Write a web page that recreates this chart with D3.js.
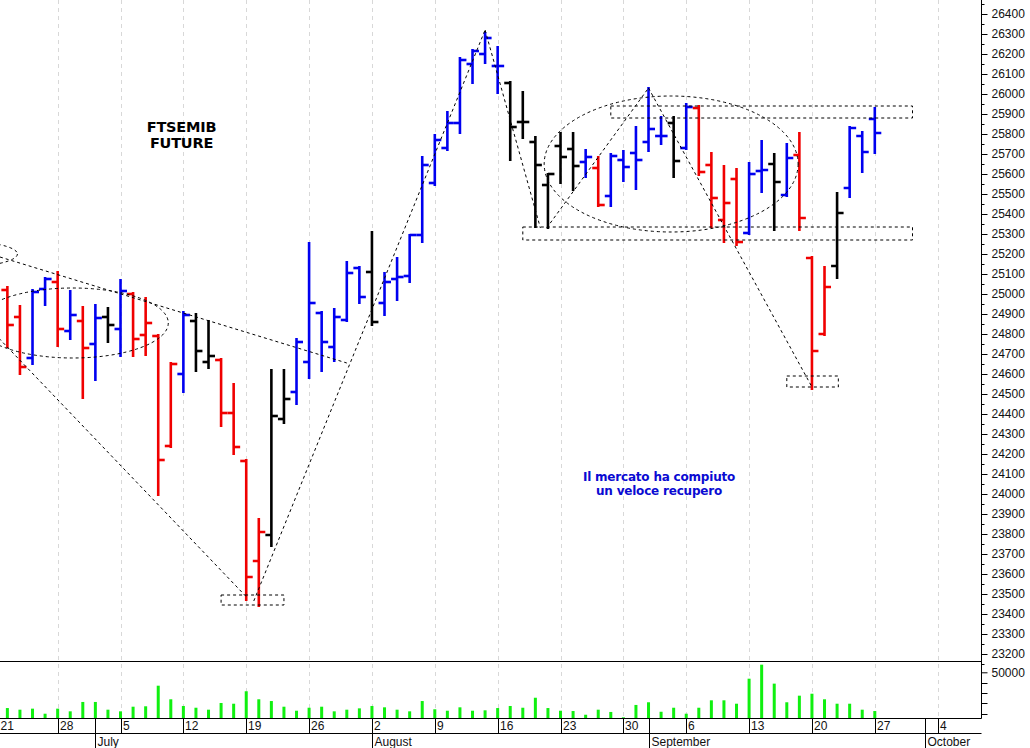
<!DOCTYPE html>
<html><head><meta charset="utf-8">
<script src="https://cdn.jsdelivr.net/npm/d3@7"></script>
<style>
html,body{margin:0;padding:0;background:#fff;}
svg{display:block;}
</style></head>
<body>
<svg id="chart" width="1030" height="748"></svg>
<script>
// ---------- DATA ----------
const dates = [
 "2021-06-22","2021-06-23","2021-06-24","2021-06-25","2021-06-28","2021-06-29","2021-06-30",
 "2021-07-01","2021-07-02","2021-07-05","2021-07-06","2021-07-07","2021-07-08","2021-07-09",
 "2021-07-12","2021-07-13","2021-07-14","2021-07-15","2021-07-16","2021-07-19","2021-07-20",
 "2021-07-21","2021-07-22","2021-07-23","2021-07-26","2021-07-27","2021-07-28","2021-07-29",
 "2021-07-30","2021-08-02","2021-08-03","2021-08-04","2021-08-05","2021-08-06","2021-08-09",
 "2021-08-10","2021-08-11","2021-08-12","2021-08-13","2021-08-16","2021-08-17","2021-08-18",
 "2021-08-19","2021-08-20","2021-08-23","2021-08-24","2021-08-25","2021-08-26","2021-08-27",
 "2021-08-30","2021-08-31","2021-09-01","2021-09-02","2021-09-03","2021-09-06","2021-09-07",
 "2021-09-08","2021-09-09","2021-09-10","2021-09-13","2021-09-14","2021-09-15","2021-09-16",
 "2021-09-17","2021-09-20","2021-09-21","2021-09-22","2021-09-23","2021-09-24","2021-09-27"];
const open = [25020,24885,24680,25025,25060,24815,24865,24750,24885,24825,25000,24795,24790,24240,
 24600,24865,24660,24670,24405,24165,23665,23795,24375,24510,24660,24905,24735,24870,25130,25110,
 24955,25075,25090,25295,25555,25730,25855,26150,26200,26140,26055,25860,25760,25545,25740,25725,
 25660,25630,25490,25670,25705,25760,25790,25855,25730,25930,25645,25370,25575,25305,25615,25650,
 25495,25695,25180,24800,25140,25530,25790,25875];
const high = [25035,24940,25020,25080,25110,25015,24935,24945,24930,25070,25005,24980,24795,24655,
 24910,24900,24865,24675,24550,24170,23875,24620,24620,24775,25255,24910,24925,25160,25135,25310,
 25105,25180,25295,25685,25795,25910,26180,26220,26305,26235,26060,26010,25785,25600,25805,25805,
 25720,25685,25700,25715,25835,26030,25885,25885,25950,25940,25705,25640,25625,25655,25765,25700,
 25750,25805,25185,25135,25505,25835,25810,25930];
const low = [24735,24600,24650,24945,24740,24775,24480,24570,24760,24690,24690,24695,23995,24235,
 24510,24615,24630,24340,24200,23470,23440,23740,24355,24450,24580,24615,24665,24865,24955,24845,
 24895,24970,25060,25260,25545,25720,25805,26055,26155,26005,25670,25780,25335,25330,25555,25520,
 25585,25440,25440,25565,25525,25715,25750,25585,25725,25595,25335,25260,25245,25300,25510,25320,
 25490,25320,24525,24795,25080,25485,25610,25705];
const close = [24845,24635,25010,25075,24825,24895,24730,24880,24845,25015,24775,24855,24170,24650,
 24895,24715,24690,24405,24235,23585,23810,24390,24475,24760,24955,24760,24885,25105,24985,24860,
 25060,25085,25295,25645,25770,25855,26170,26215,26280,26140,25835,25860,25645,25600,25685,25640,
 25685,25445,25690,25635,25670,25825,25790,25665,25935,25610,25480,25455,25260,25600,25620,25560,
 25680,25380,24715,25035,25405,25830,25710,25805];
// bar colour as drawn: b = blue, r = red, k = black
const barColor = ["r","r","b","b","r","b","r","b","k","b","r","r","r","r",
 "b","k","k","r","r","r","r","k","k","b","b","b","b","b","b","k",
 "b","b","b","b","b","b","b","b","b","b","k","k","k","k","k","k",
 "b","r","b","b","b","b","b","k","b","r","r","r","r","b","b","k",
 "b","r","r","r","k","b","b","b"];
const volume = [15300,13700,14700,9800,14700,12100,21200,21200,13700,12100,16600,17000,37000,23800,
 17300,15600,13700,20200,19500,31600,23800,22100,16600,12700,15600,16600,12100,13700,15000,17300,
 16000,13700,12100,22100,14100,12700,16000,12700,13100,15300,17300,15600,25300,15300,12700,12400,
 8800,13700,11500,6300,18300,20900,11700,15600,9800,15600,22800,22800,19500,43800,57400,39000,
 20900,27300,29200,23800,19500,19500,13700,12400];

const weekTickDates  = ["2021-06-21","2021-06-28","2021-07-05","2021-07-12","2021-07-19","2021-07-26",
 "2021-08-02","2021-08-09","2021-08-16","2021-08-23","2021-08-30","2021-09-06","2021-09-13",
 "2021-09-20","2021-09-27","2021-10-04"];
const weekTickLabels = ["21","28","5","12","19","26","2","9","16","23","30","6","13","20","27","4"];
const monthStarts = ["2021-07-01","2021-08-02","2021-09-01","2021-10-01"];
const monthNames  = ["July","August","September","October"];
const priceTicks = d3.range(23200, 26401, 100);
const volumeTickLabel = 50000;
const volumeMinorTicks = [10000,20000,30000,40000];

// hand-drawn annotations in (trading-day index, price)
const annRects = [[18.0,23.0,23495,23445],[49.0,73.0,25940,25880],[42.0,73.0,25335,25270],[63.0,67.1,24590,24535]];
const annEllipses = [[-2.8,25200,4.6,65],[6.2,24855,7.6,175],[53.8,25650,10.1,340]];
const annLines = [[0.41,25185,28.0,24655],[0.0,24800,20.1,23480],[20.6,23465,39.0,26320],
 [39.0,26320,43.4,25330],[43.9,25330,52.0,26030],[52.0,26030,65.0,24535]];
const title = ["FTSEMIB","FUTURE"];
const note = ["Il mercato ha compiuto","un veloce recupero"];

// ---------- SCALES ----------
const W = 1030, axisX = 981.5;
const pTop = 0, pBot = 661.5, vBot = 718.5, dRow = 733.5, H = 748;
const start = Date.UTC(2021,5,21);
const parse = s => { const [yy,m,d] = s.split("-").map(Number); return new Date(Date.UTC(yy,m-1,d)); };
const tIdx = s => { const dt = parse(s); const days = Math.round((dt - start)/864e5);
  return Math.floor(days/7)*5 + (dt.getUTCDay()-1); };
const x = d3.scaleLinear().domain([0,70]).range([-5.2, 874.8]);
const y = d3.scaleLinear().domain([23200,26400]).range([654,14]);
const yv = d3.scaleLinear().domain([0,50000]).range([723.8,672.3]);
const colorMap = {b:"#0000f0", r:"#f00000", k:"#000000"};

const svg = d3.select("#chart");
svg.append("rect").attr("width",W).attr("height",H).attr("fill","#fff");

const defs = svg.append("defs");
defs.append("clipPath").attr("id","cp").append("rect").attr("x",0).attr("y",pTop).attr("width",axisX).attr("height",pBot-pTop);
defs.append("clipPath").attr("id","cv").append("rect").attr("x",0).attr("y",pBot).attr("width",axisX).attr("height",vBot-pBot);

// grid (mondays)
const gx = weekTickDates.map(tIdx);
svg.append("g").selectAll("line").data(gx).join("line")
  .attr("x1",d=>Math.round(x(d))+0.5).attr("x2",d=>Math.round(x(d))+0.5)
  .attr("y1",0).attr("y2",vBot)
  .attr("stroke","#d8d8d8").attr("stroke-dasharray","4,4").attr("stroke-width",1);

// ---------- PRICE BARS ----------
const gp = svg.append("g").attr("clip-path","url(#cp)");
const idx = dates.map(tIdx);
const bars = gp.selectAll("g.bar").data(idx.map((d,i)=>i)).join("g").attr("class","bar")
  .attr("stroke",i=>colorMap[barColor[i]]).attr("stroke-width",2.6).attr("fill","none");
bars.append("line").attr("x1",i=>x(idx[i])).attr("x2",i=>x(idx[i]))
  .attr("y1",i=>y(high[i])-1).attr("y2",i=>y(low[i])+1);
bars.append("line").attr("x1",i=>x(idx[i])-6).attr("x2",i=>x(idx[i]))
  .attr("y1",i=>y(open[i])).attr("y2",i=>y(open[i]));
bars.append("line").attr("x1",i=>x(idx[i])).attr("x2",i=>x(idx[i])+6.5)
  .attr("y1",i=>y(close[i])).attr("y2",i=>y(close[i]));

// ---------- ANNOTATIONS ----------
const ga = gp.append("g").attr("fill","none").attr("stroke","#000").attr("stroke-width",1).attr("stroke-dasharray","3,3");
ga.selectAll("rect").data(annRects).join("rect")
  .attr("x",d=>x(d[0])).attr("width",d=>x(d[1])-x(d[0]))
  .attr("y",d=>y(d[2])).attr("height",d=>y(d[3])-y(d[2]));
ga.selectAll("ellipse").data(annEllipses).join("ellipse")
  .attr("cx",d=>x(d[0])).attr("cy",d=>y(d[1]))
  .attr("rx",d=>x(d[0]+d[2])-x(d[0])).attr("ry",d=>y(d[1]-d[3])-y(d[1]));
ga.selectAll("line").data(annLines).join("line")
  .attr("x1",d=>x(d[0])).attr("y1",d=>y(d[1])).attr("x2",d=>x(d[2])).attr("y2",d=>y(d[3]));

// texts
title.forEach((t,k)=>{
  svg.append("text").attr("x",181.5).attr("y",131.5+k*16).attr("text-anchor","middle")
    .attr("font-family","DejaVu Sans, Verdana, sans-serif").attr("font-weight","bold").attr("font-size",14.5)
    .attr("letter-spacing","-0.2").attr("fill","#000").text(t);
});
note.forEach((t,k)=>{
  svg.append("text").attr("x",659).attr("y",480.5+k*14.5).attr("text-anchor","middle")
    .attr("font-family","DejaVu Sans, Verdana, sans-serif").attr("font-weight","bold").attr("font-size",12)
    .attr("letter-spacing","-0.2").attr("fill","#0a0ad2").text(t);
});

// ---------- VOLUME ----------
const gv = svg.append("g").attr("clip-path","url(#cv)");
gv.selectAll("rect").data(idx.map((d,i)=>i)).join("rect")
  .attr("x",i=>x(idx[i])-1.5).attr("width",3)
  .attr("y",i=>yv(volume[i])).attr("height",i=>yv(0)-yv(volume[i]))
  .attr("fill","#10f010");

// ---------- FRAMES / AXES ----------
const frame = svg.append("g").attr("stroke","#000").attr("stroke-width",1);
frame.append("line").attr("x1",0).attr("x2",axisX).attr("y1",pBot).attr("y2",pBot);
frame.append("line").attr("x1",0).attr("x2",axisX).attr("y1",vBot).attr("y2",vBot);
frame.append("line").attr("x1",0).attr("x2",axisX).attr("y1",dRow).attr("y2",dRow);
frame.append("line").attr("x1",axisX).attr("x2",axisX).attr("y1",0).attr("y2",vBot);

// price axis
const pa = svg.append("g").attr("transform",`translate(${axisX},0)`);
pa.call(d3.axisRight(y).tickValues(priceTicks).tickSize(6).tickPadding(4).tickFormat(d3.format("d")))
  .call(g=>g.select(".domain").remove())
  .call(g=>g.selectAll("text").attr("font-family","Liberation Sans, Arial, sans-serif").attr("font-size",12).attr("fill","#111"));
pa.append("g").selectAll("line").data(d3.range(23150,26451,100)).join("line")
  .attr("x1",0).attr("x2",3).attr("y1",d=>Math.round(y(d))+0.5).attr("y2",d=>Math.round(y(d))+0.5).attr("stroke","#000");

// volume axis
const va = svg.append("g").attr("transform",`translate(${axisX},0)`);
va.call(d3.axisRight(yv).tickValues([volumeTickLabel]).tickSize(6).tickPadding(4).tickFormat(d3.format("d")))
  .call(g=>g.select(".domain").remove())
  .call(g=>g.selectAll("text").attr("font-family","Liberation Sans, Arial, sans-serif").attr("font-size",12).attr("fill","#111"));
va.append("g").selectAll("line").data(volumeMinorTicks).join("line")
  .attr("x1",0).attr("x2",6).attr("y1",d=>Math.round(yv(d))+0.5).attr("y2",d=>Math.round(yv(d))+0.5).attr("stroke","#000");

// date axis
const da = svg.append("g");
weekTickDates.forEach((d,k)=>{
  const px = Math.round(x(tIdx(d)))+0.5;
  da.append("line").attr("x1",px).attr("x2",px).attr("y1",vBot).attr("y2",dRow).attr("stroke","#000");
  da.append("text").attr("x",Math.max(0.5, px+1.5)).attr("y",730).attr("font-family","Liberation Sans, Arial, sans-serif")
    .attr("font-size",12).attr("fill","#111").text(weekTickLabels[k]);
});
monthStarts.forEach((d,k)=>{
  const px = Math.round(x(tIdx(d)))+0.5;
  da.append("line").attr("x1",px).attr("x2",px).attr("y1",vBot).attr("y2",H).attr("stroke","#000");
  da.append("text").attr("x",px+2).attr("y",746).attr("font-family","Liberation Sans, Arial, sans-serif")
    .attr("font-size",12).attr("fill","#111").text(monthNames[k]);
});
</script>
</body></html>
